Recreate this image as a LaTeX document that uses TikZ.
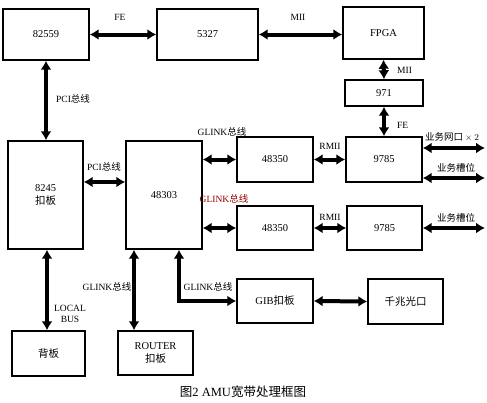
\documentclass[tikz,border=0pt]{standalone}
\usepackage{fontspec}
\setmainfont{Liberation Serif}
\newfontfamily\cjk{Noto Sans CJK SC}
\usetikzlibrary{arrows.meta}
\begin{document}
\begin{tikzpicture}[x=1pt,y=-1pt,
  box/.style={draw, line width=1.4pt, inner sep=0pt, align=center, font=\fontsize{10.5}{13}\selectfont},
  arr/.style={line width=4pt, {Latex[length=9pt,width=11pt]}-{Latex[length=9pt,width=11pt]}},
  lbl/.style={font=\fontsize{9.5}{11.5}\selectfont, inner sep=1pt}]
\useasboundingbox[fill=white] (0,0) rectangle (487,402);
% boxes
\node[box, minimum width=86pt, minimum height=51pt] (b82559) at (46,34.5) {82559};
\node[box, minimum width=101pt, minimum height=51pt] (b5327) at (207.5,34.5) {5327};
\node[box, minimum width=81pt, minimum height=52pt] (fpga) at (383.5,33) {FPGA};
\node[box, minimum width=78pt, minimum height=26pt] (b971) at (384,93) {971};
\node[box, minimum width=75pt, minimum height=108pt] (b8245) at (45.5,195) {8245\\{\cjk 扣板}};
\node[box, minimum width=76pt, minimum height=108pt] (b48303) at (164,195) {48303};
\node[box, minimum width=76pt, minimum height=45pt] (b48350a) at (275,159.5) {48350};
\node[box, minimum width=76pt, minimum height=45pt] (b9785a) at (384,159.5) {9785};
\node[box, minimum width=76pt, minimum height=44pt] (b48350b) at (275,228) {48350};
\node[box, minimum width=75pt, minimum height=44pt] (b9785b) at (384.5,228) {9785};
\node[box, minimum width=73pt, minimum height=45pt] (beiban) at (48.5,353.5) {{\cjk 背板}};
\node[box, minimum width=75pt, minimum height=44pt] (router) at (155.5,353) {ROUTER\\{\cjk 扣板}};
\node[box, minimum width=76pt, minimum height=44pt] (gib) at (275,301) {GIB{\cjk 扣板}};
\node[box, minimum width=75pt, minimum height=45pt] (optic) at (405.5,301.5) {{\cjk 千兆光口}};
% free ends
\coordinate (r1) at (485,148);
\coordinate (r2) at (485,178);
\coordinate (r3) at (485,228);
% connectors
\draw[arr] (b82559.east) -- (b5327.west);
\draw[arr] (b5327.east) -- (b5327.east -| fpga.west);
\draw[arr] (fpga.south) -- (b971.north);
\draw[arr] (b971.south) -- (b971.south |- b9785a.north);
\draw[arr] (b82559.south) -- (b82559.south |- b8245.north);
\draw[arr] ([yshift=13pt]b8245.east) -- ([yshift=13pt]b48303.west);
\draw[arr] (b48303.east |- b48350a) -- (b48350a.west);
\draw[arr] (b48303.east |- b48350b) -- (b48350b.west);
\draw[arr] (b48350a.east) -- (b9785a.west);
\draw[arr] (b48350b.east) -- (b9785b.west);
\draw[arr] (b9785a.east |- r1) -- (r1);
\draw[arr] (b9785a.east |- r2) -- (r2);
\draw[arr] (b9785b.east |- r3) -- (r3);
\draw[arr] ([xshift=1.5pt]b8245.south) -- ([xshift=1.5pt]b8245.south |- beiban.north);
\draw[arr] ([xshift=-30pt]b48303.south) -- ([xshift=-30pt]b48303.south |- router.north);
\draw[arr] ([xshift=15pt]b48303.south) |- (gib.west);
\draw[arr] (gib.east) -- (optic.west);
% labels
\node[lbl] (l1) at (120,17) {FE};
\node[lbl] (l2) at (298,17) {MII};
\node[lbl, anchor=west] (l3) at (396,70) {MII};
\node[lbl, anchor=west] (l4) at (396,125) {FE};
\node[lbl, anchor=west] (l5) at (55,99) {PCI{\cjk 总线}};
\node[lbl] (l6) at (104,167) {PCI{\cjk 总线}};
\node[lbl] (l7) at (222,132) {GLINK{\cjk 总线}};
\node[lbl, text=red!60!black] (l8) at (224,199) {GLINK{\cjk 总线}};
\node[lbl] (l9) at (330,146) {RMII};
\node[lbl] (l10) at (330,217) {RMII};
\node[lbl] (l11) at (452,137) {{\cjk 业务网口}${}\times2$};
\node[lbl] (l12) at (456,168) {{\cjk 业务槽位}};
\node[lbl] (l13) at (456,218) {{\cjk 业务槽位}};
\node[lbl, align=center] (l14) at (70,314) {LOCAL\\BUS};
\node[lbl] (l15) at (107,287) {GLINK{\cjk 总线}};
\node[lbl] (l16) at (208,287) {GLINK{\cjk 总线}};
\node[font=\fontsize{12.5}{14}\selectfont] (cap) at (243,392) {{\cjk 图}2 AMU{\cjk 宽带处理框图}};
\end{tikzpicture}
\end{document}
